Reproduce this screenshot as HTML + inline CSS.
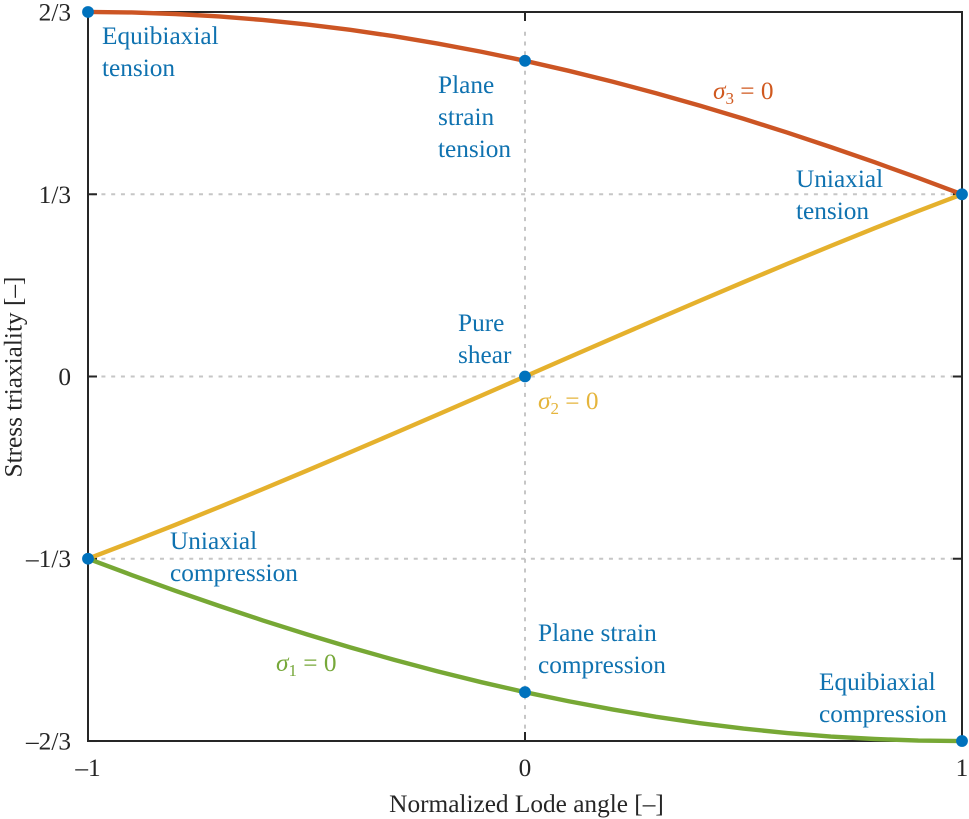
<!DOCTYPE html>
<html lang="en">
<head>
<meta charset="utf-8">
<title>Stress triaxiality vs normalized Lode angle</title>
<style>
html,body{margin:0;padding:0;background:#fff;}
svg{display:block;position:absolute;left:0;top:0;}
text{font-family:"Liberation Serif","Times New Roman",serif;font-size:25.3px;}
.anno{fill:#0f72b0;}
.tick{fill:#262626;}
text .sub{font-size:17px;}
</style>
</head>
<body>
<svg id="chart" width="969" height="819" viewBox="0 0 969 819" xmlns="http://www.w3.org/2000/svg">
  <rect x="0" y="0" width="969" height="819" fill="#ffffff"/>
  <g id="grid"></g>
  <g id="axes"></g>
  <g id="series"></g>
  <g id="points"></g>
  <g id="ticks"></g>

  <text class="tick" x="526.5" y="812" text-anchor="middle">Normalized Lode angle [–]</text>
  <text class="tick" transform="translate(21.5,377) rotate(-90)" text-anchor="middle">Stress triaxiality [–]</text>

  <g class="anno">
    <text class="anno" x="102" y="44">Equibiaxial</text>
    <text class="anno" x="102" y="76">tension</text>
  </g>
  <g>
    <text class="anno" x="438" y="93">Plane</text>
    <text class="anno" x="438" y="125">strain</text>
    <text class="anno" x="438" y="157">tension</text>
  </g>
  <g>
    <text class="anno" x="796" y="187">Uniaxial</text>
    <text class="anno" x="796" y="219">tension</text>
  </g>
  <g>
    <text class="anno" x="458" y="331">Pure</text>
    <text class="anno" x="458" y="363">shear</text>
  </g>
  <g>
    <text class="anno" x="170" y="549">Uniaxial</text>
    <text class="anno" x="170" y="581">compression</text>
  </g>
  <g>
    <text class="anno" x="538" y="641">Plane strain</text>
    <text class="anno" x="538" y="673">compression</text>
  </g>
  <g>
    <text class="anno" x="819" y="690">Equibiaxial</text>
    <text class="anno" x="819" y="722">compression</text>
  </g>

  <text x="713" y="99" fill="#d0591f"><tspan font-style="italic">σ</tspan><tspan class="sub" dy="5">3</tspan><tspan dy="-5"> = 0</tspan></text>
  <text x="538" y="409" fill="#e5b53c"><tspan font-style="italic">σ</tspan><tspan class="sub" dy="5">2</tspan><tspan dy="-5"> = 0</tspan></text>
  <text x="276" y="671" fill="#77a83a"><tspan font-style="italic">σ</tspan><tspan class="sub" dy="5">1</tspan><tspan dy="-5"> = 0</tspan></text>
</svg>
<script>
// Chart data
const lodeAngles = [-1,-0.9,-0.8,-0.7,-0.6,-0.5,-0.4,-0.3,-0.2,-0.1,0,0.1,0.2,0.3,0.4,0.5,0.6,0.7,0.8,0.9,1];
const sigma3Zero = [0.6667,0.6658,0.6630,0.6585,0.6521,0.6440,0.6340,0.6224,0.6090,0.5940,0.5774,0.5591,0.5393,0.5181,0.4954,0.4714,0.4461,0.4195,0.3919,0.3631,0.3333];
const sigma2Zero = [-0.3333,-0.3027,-0.2712,-0.2389,-0.2060,-0.1725,-0.1386,-0.1043,-0.0697,-0.0349,0,0.0349,0.0697,0.1043,0.1386,0.1725,0.2060,0.2389,0.2712,0.3027,0.3333];
const sigma1Zero = [-0.3333,-0.3631,-0.3919,-0.4195,-0.4461,-0.4714,-0.4954,-0.5181,-0.5393,-0.5591,-0.5774,-0.5940,-0.6090,-0.6224,-0.6340,-0.6440,-0.6521,-0.6585,-0.6630,-0.6658,-0.6667];
const pointLode = [-1,0,1,0,-1,1,0];
const pointTriax = [0.6667,0.5774,0.3333,0,-0.3333,-0.6667,-0.5774];
const xTickValues = [-1,0,1];
const xTickLabels = ['–1','0','1'];
const yTickValues = [0.6667,0.3333,0,-0.3333,-0.6667];
const yTickLabels = ['2/3','1/3','0','–1/3','–2/3'];
const xGridValues = [0];
const yGridValues = [0.3333,0,-0.3333];

// Axis functions
const plotLeft = 88, plotRight = 962, plotTop = 12, plotBottom = 741;
function xScale(v){ return plotLeft + (v + 1) / 2 * (plotRight - plotLeft); }
function yScale(v){ return plotBottom - (v + 2/3) / (4/3) * (plotBottom - plotTop); }
const NS = 'http://www.w3.org/2000/svg';
function make(tag, parent, attrs){
  const el = document.createElementNS(NS, tag);
  Object.keys(attrs).forEach(function(k){ el.setAttribute(k, attrs[k]); });
  parent.appendChild(el);
  return el;
}

// Grid
const gridG = document.getElementById('grid');
yGridValues.forEach(function(v){
  const el = make('line', gridG, {x1:plotLeft, x2:plotRight, y1:yScale(v), y2:yScale(v), stroke:'#c6c6c6', 'stroke-width':2, 'stroke-dasharray':'4 5.76', 'stroke-dashoffset':6.1});
  
  
});
xGridValues.forEach(function(v){
  const el = make('line', gridG, {x1:xScale(v), x2:xScale(v), y1:plotTop+15, y2:plotBottom, stroke:'#c6c6c6', 'stroke-width':2, 'stroke-dasharray':'4 5.76', 'stroke-dashoffset':5.06});
  
  
});

// Axes box and ticks
const axesG = document.getElementById('axes');
const box = make('rect', axesG, {x:plotLeft, y:plotTop, width:plotRight-plotLeft, height:plotBottom-plotTop, fill:'none', stroke:'#262626', 'stroke-width':2});


xTickValues.forEach(function(v){
  const b = make('line', axesG, {x1:xScale(v), x2:xScale(v), y1:plotBottom, y2:plotBottom-9, stroke:'#262626', 'stroke-width':2});
  
  
  const t = make('line', axesG, {x1:xScale(v), x2:xScale(v), y1:plotTop, y2:plotTop+9, stroke:'#262626', 'stroke-width':2});
  
  
});
yTickValues.forEach(function(v){
  const l = make('line', axesG, {x1:plotLeft, x2:plotLeft+9, y1:yScale(v), y2:yScale(v), stroke:'#262626', 'stroke-width':2});
  
  
  const r = make('line', axesG, {x1:plotRight, x2:plotRight-9, y1:yScale(v), y2:yScale(v), stroke:'#262626', 'stroke-width':2});
  
  
});

// Curves
const seriesG = document.getElementById('series');
function curvePoints(values){
  return values.map(function(v, i){ return xScale(lodeAngles[i]).toFixed(2) + ',' + yScale(v).toFixed(2); }).join(' ');
}
const curve2 = make('polyline', seriesG, {points:curvePoints(sigma2Zero), fill:'none', stroke:'#e5b12d', 'stroke-width':4.4, 'stroke-linejoin':'round'});


const curve3 = make('polyline', seriesG, {points:curvePoints(sigma3Zero), fill:'none', stroke:'#cc5524', 'stroke-width':4.4, 'stroke-linejoin':'round'});


const curve1 = make('polyline', seriesG, {points:curvePoints(sigma1Zero), fill:'none', stroke:'#77a835', 'stroke-width':4.4, 'stroke-linejoin':'round'});



// State points
const pointsG = document.getElementById('points');
pointLode.forEach(function(v, i){
  const c = make('circle', pointsG, {cx:xScale(v), cy:yScale(pointTriax[i]), r:5.9, fill:'#0072bd'});
  
  
});

// Tick labels
const ticksG = document.getElementById('ticks');
xTickValues.forEach(function(v, i){
  const t = make('text', ticksG, {x:xScale(v), y:776, 'text-anchor':'middle', class:'tick'});
  t.textContent = xTickLabels[i];
  
  
});
yTickValues.forEach(function(v, i){
  const t = make('text', ticksG, {x:71, y:yScale(v)+8.5, 'text-anchor':'end', class:'tick'});
  t.textContent = yTickLabels[i];
  
  
});
</script>
</body>
</html>
